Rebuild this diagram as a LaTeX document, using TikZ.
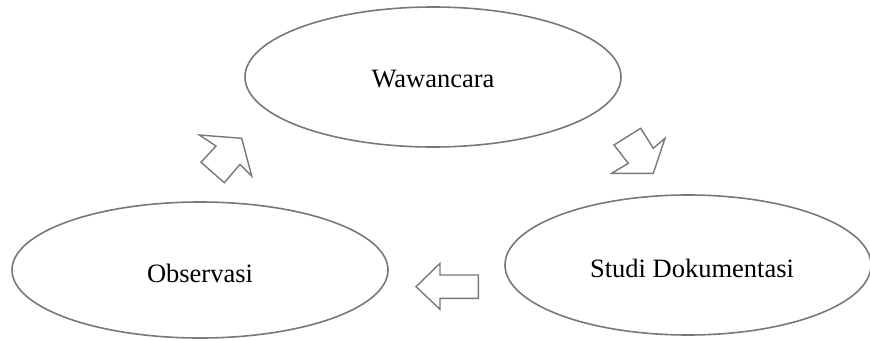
\documentclass[tikz,border=0pt]{standalone}
\usepackage{fontspec}
\setmainfont{Liberation Serif}
\usetikzlibrary{shapes.geometric}
\definecolor{edgegray}{RGB}{120,120,120}
\begin{document}
\begin{tikzpicture}[x=1pt,y=-1pt,
  oval/.style={ellipse, draw=edgegray, line width=1.6pt, inner sep=0pt},
  ovaltext/.style={anchor=base, inner sep=0pt, font=\fontsize{26.5}{30}\selectfont},
  blockarrow/.style={draw=edgegray, line width=1.4pt, line join=miter}]
\useasboundingbox (0,0) rectangle (870,340);
\node[oval, minimum width=376pt, minimum height=140pt] (waw) at (433,77) {};
\node[oval, minimum width=376pt, minimum height=136pt] (obs) at (200,270) {};
\node[oval, minimum width=366pt, minimum height=140pt] (stu) at (688,265) {};
\node[ovaltext] (wawt) at ([yshift=-10pt]waw.center) {Wawancara};
\node[ovaltext] (obst) at ([yshift=-12pt]obs.center) {Observasi};
\node[ovaltext] (stut) at ([xshift=4pt,yshift=-12pt]stu.center) {Studi Dokumentasi};
% arrow Observasi -> Wawancara (up-right)
\draw[blockarrow] (199.3,135) -- (241.7,138.3) -- (251.7,176) -- (240,164.3)
  -- (224.3,182.7) -- (201,162.3) -- (216,146) -- cycle;
% arrow Wawancara -> Studi Dokumentasi (down-right)
\draw[blockarrow] (640.7,128.3) -- (653.3,148.3) -- (665,138.3) -- (653.3,173.3)
  -- (611.7,173.3) -- (628.3,163.3) -- (614,145) -- cycle;
% arrow Studi Dokumentasi -> Observasi (left)
\draw[blockarrow] (416,286.7) -- (440,263.3) -- (440,275) -- (478.3,275)
  -- (478.3,298.3) -- (440,298.3) -- (440,309.3) -- cycle;
\end{tikzpicture}
\end{document}
